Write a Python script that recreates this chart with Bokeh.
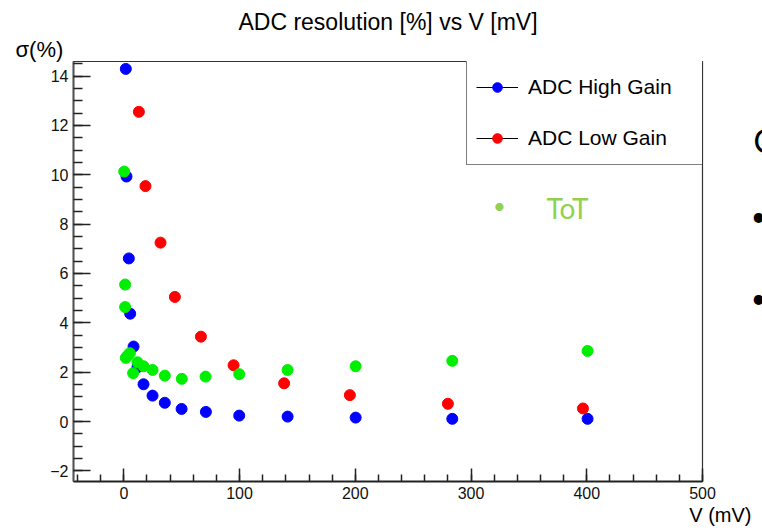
from bokeh.plotting import figure
from bokeh.layouts import row
from bokeh.models import Range1d, SingleIntervalTicker, Label, Legend, LegendItem, Title
from bokeh.embed import file_html
from bokeh.resources import INLINE

# ---- data ----
hg_v = [1.7, 2.3, 4.3, 5.5, 8.4, 11.8, 17.0, 24.8, 35.4, 49.9, 70.9, 99.7, 141.5, 200.3, 283.8, 400.7]
hg_sigma = [14.29, 9.93, 6.61, 4.37, 3.04, 2.2, 1.51, 1.05, 0.76, 0.51, 0.39, 0.24, 0.20, 0.16, 0.11, 0.11]

lg_v = [13.0, 18.7, 31.7, 44.1, 66.6, 94.8, 138.5, 195.3, 280.0, 396.7]
lg_sigma = [12.55, 9.54, 7.25, 5.05, 3.44, 2.28, 1.55, 1.07, 0.72, 0.53]

tot_v = [0.3, 1.1, 1.1, 1.7, 3.2, 5.2, 8.0, 11.8, 17.0, 24.8, 35.4, 50.1, 70.6, 99.7, 141.5, 200.3, 283.8, 400.7]
tot_sigma = [10.13, 5.55, 4.64, 2.58, 2.67, 2.77, 1.96, 2.40, 2.24, 2.09, 1.86, 1.73, 1.82, 1.92, 2.09, 2.24, 2.46, 2.86]

title_text = "ADC resolution [%] vs V [mV]"
x_label = "V (mV)"
y_label = "σ(%)"
series_labels = ["ADC High Gain", "ADC Low Gain"]
tot_label = "ToT"
side_texts = ["C", "•", "•"]

FONT = "Liberation Sans"

p = figure(width=752, height=531, output_backend="svg", toolbar_location=None, title=None,
           x_range=Range1d(-43.5, 500), y_range=Range1d(-2.43, 14.59),
           min_border_left=73, min_border_right=50, min_border_top=61, min_border_bottom=50)
p.xgrid.visible = False
p.ygrid.visible = False
p.background_fill_color = "white"
p.border_fill_color = "white"
p.outline_line_color = "#333333"
p.outline_line_width = 1.2

p.xaxis.ticker = SingleIntervalTicker(interval=100, num_minor_ticks=5)
p.yaxis.ticker = SingleIntervalTicker(interval=2, num_minor_ticks=4)

for ax, maj, mnr in ((p.xaxis, 13, 7), (p.yaxis, 17, 9)):
    ax.major_tick_in = maj
    ax.major_tick_out = 0
    ax.minor_tick_in = mnr
    ax.minor_tick_out = 0
    ax.major_tick_line_color = "#222222"
    ax.minor_tick_line_color = "#222222"
    ax.major_tick_line_width = 1.5
    ax.minor_tick_line_width = 1.5
    ax.major_label_text_font = FONT
    ax.major_label_text_font_size = "16px"
    ax.major_label_text_color = "#111111"
    ax.major_label_standoff = 5

p.xaxis.axis_line_color = "#222222"
p.xaxis.axis_line_width = 2
p.yaxis.axis_line_color = "#555555"
p.yaxis.axis_line_width = 2

# data points
r_hg = p.scatter(hg_v, hg_sigma, size=11, color="#0000ff")
r_lg = p.scatter(lg_v, lg_sigma, size=11, color="#ff0000")
r_tot = p.scatter(tot_v, tot_sigma, size=11, color="#00ee00")

# legend line helpers (single point -> no visible segment on the plot)
l_hg = p.line(x=hg_v[:1], y=hg_sigma[:1], line_color="black", line_width=1)
l_lg = p.line(x=lg_v[:1], y=lg_sigma[:1], line_color="black", line_width=1)

legend = Legend(items=[LegendItem(label=series_labels[0], renderers=[l_hg, r_hg]),
                       LegendItem(label=series_labels[1], renderers=[l_lg, r_lg])],
                location=(393, 316), margin=0, padding=9, spacing=16,
                glyph_width=42, glyph_height=24, label_height=35, label_width=167,
                label_standoff=10, label_text_font=FONT, label_text_font_size="21px",
                label_text_color="black", border_line_color="black", border_line_width=1,
                background_fill_color="white", background_fill_alpha=1.0)
p.add_layout(legend)

# titles / axis labels as Title annotations in the side panels
sigma_t = Title(text=y_label, align="left", offset=-58, standoff=0,
                text_font=FONT, text_font_size="22px", text_font_style="normal", text_color="black")
main_t = Title(text=title_text, align="center", standoff=0,
               text_font=FONT, text_font_size="23px", text_font_style="normal", text_color="black")
p.above = [sigma_t, main_t]

xl_t = Title(text=x_label, align="right", offset=-49, standoff=0,
             text_font=FONT, text_font_size="20px", text_font_style="normal", text_color="black")
p.add_layout(xl_t, "below")

# ToT annotation (inside the frame)
p.add_layout(Label(x=426, y=276, x_units="screen", y_units="screen", text="•",
                   text_font="Lato", text_font_size="22px", text_align="center",
                   text_baseline="middle", text_color="#92d050"))
p.add_layout(Label(x=473, y=274, x_units="screen", y_units="screen", text=tot_label,
                   text_font="Lato", text_font_size="28px", text_align="left",
                   text_baseline="alphabetic", text_color="#92d050"))

# narrow strip at the right edge: cropped slide text ("C" and two bullets)
s = figure(width=10, height=531, output_backend="svg", toolbar_location=None, title=None,
           x_axis_location=None, y_axis_location=None,
           x_range=Range1d(0, 1), y_range=Range1d(0, 1),
           min_border_left=0, min_border_right=0, min_border_top=0, min_border_bottom=0)
s.xgrid.visible = False
s.ygrid.visible = False
s.outline_line_color = None
s.background_fill_color = "white"
s.border_fill_color = "white"
s.add_layout(Label(x=1, y=341, x_units="screen", y_units="screen", text=side_texts[0],
                   text_font="Lato", text_font_size="32px", text_align="left",
                   text_baseline="alphabetic", text_color="black"))
s.add_layout(Label(x=6, y=266, x_units="screen", y_units="screen", text=side_texts[1],
                   text_font="Lato", text_font_size="26px", text_align="center",
                   text_baseline="middle", text_color="black"))
s.add_layout(Label(x=6, y=184, x_units="screen", y_units="screen", text=side_texts[2],
                   text_font="Lato", text_font_size="26px", text_align="center",
                   text_baseline="middle", text_color="black"))

layout = row(p, s, spacing=0)
open("out.html", "w").write(file_html(layout, INLINE))
